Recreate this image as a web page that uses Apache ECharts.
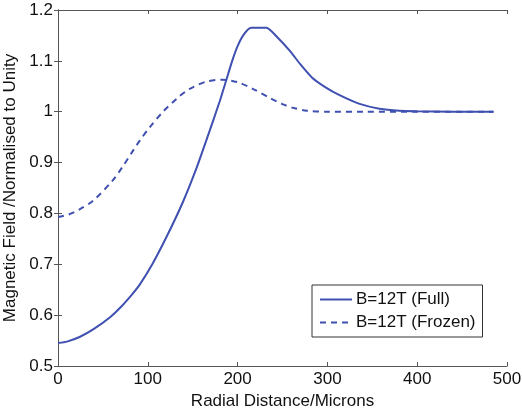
<!DOCTYPE html>
<html>
<head>
<meta charset="utf-8">
<script src="https://cdn.jsdelivr.net/npm/echarts@6/dist/echarts.min.js"></script>
<style>
  html, body { margin: 0; padding: 0; background: #fff; }
  #chart { width: 522px; height: 412px; }
</style>
</head>
<body>
<div id="chart"></div>
<script>
// radial distance (microns) and normalised field
var fullX = [0, 10, 24, 40, 58, 70, 83, 91, 105, 122, 139, 154, 167, 180, 187, 194, 200, 207, 215, 232, 245, 258, 270, 283, 298, 313, 335, 358, 380, 400, 440, 485]
var fullY = [0.545, 0.548, 0.557, 0.573, 0.596, 0.616, 0.642, 0.660, 0.700, 0.758, 0.822, 0.888, 0.953, 1.02, 1.06, 1.1, 1.129, 1.152, 1.165, 1.165, 1.145, 1.12, 1.093, 1.067, 1.048, 1.033, 1.016, 1.006, 1.002, 1.001, 1.0, 1.0]

var frozenX = [0, 12, 24, 39, 61, 72, 83, 91, 102, 117, 133, 143, 150, 165, 183, 200, 218, 236, 250, 261, 277, 300, 340, 400, 485]
var frozenY = [0.793, 0.798, 0.808, 0.825, 0.865, 0.892, 0.922, 0.943, 0.969, 1.0, 1.027, 1.041, 1.048, 1.059, 1.063, 1.058, 1.044, 1.027, 1.015, 1.008, 1.002, 1.0, 1.0, 1.0, 1.0]

var fullName = 'B=12T (Full)'
var frozenName = 'B=12T (Frozen)'

function pairs (xs, ys) {
  return xs.map(function (x, i) { return [x, ys[i]] })
}

var blue = '#3f50b0'
var axisColor = '#555'
var font = 'Liberation Sans'

var myChart = echarts.init(document.getElementById('chart'))
myChart.setOption({
  animation: false,
  grid: {
    left: 58,
    right: 15,
    top: 10,
    bottom: 46,
    containLabel: false,
    outerBoundsMode: 'none'
  },
  legend: {
    orient: 'vertical',
    left: 312,
    top: 285,
    padding: [6, 7, 6, 7],
    itemGap: 6,
    itemWidth: 32,
    itemHeight: 12,
    itemStyle: { opacity: 0 },
    borderColor: '#333',
    borderWidth: 1,
    backgroundColor: '#fff',
    textStyle: { fontFamily: font, fontSize: 17, color: '#111', padding: [0, 0, 0, -1] },
    data: [fullName, frozenName]
  },
  xAxis: [
    {
      type: 'value',
      min: 0,
      max: 500,
      interval: 100,
      name: 'Radial Distance/Microns',
      nameLocation: 'middle',
      nameGap: 23,
      nameTextStyle: { fontFamily: font, fontSize: 17, color: '#111' },
      axisLine: { lineStyle: { color: axisColor, width: 1 } },
      axisTick: { inside: true, length: 4, lineStyle: { color: axisColor } },
      axisLabel: { fontFamily: font, fontSize: 17, color: '#111', margin: 5 },
      splitLine: { show: false }
    },
    {
      type: 'value',
      position: 'top',
      min: 0,
      max: 500,
      interval: 100,
      axisLine: { show: true, lineStyle: { color: axisColor, width: 1 } },
      axisTick: { show: true, inside: true, length: 4, lineStyle: { color: axisColor } },
      axisLabel: { show: false },
      splitLine: { show: false }
    }
  ],
  yAxis: [
    {
      type: 'value',
      min: 0.5,
      max: 1.2,
      interval: 0.1,
      name: 'Magnetic Field /Normalised to Unity',
      nameLocation: 'middle',
      nameGap: 33,
      nameTextStyle: { fontFamily: font, fontSize: 17, color: '#111' },
      axisLine: { show: true, lineStyle: { color: axisColor, width: 1 } },
      axisTick: { show: true, inside: true, length: 4, lineStyle: { color: axisColor } },
      axisLabel: {
        fontFamily: font,
        fontSize: 17,
        color: '#111',
        margin: 5,
        formatter: function (v) { return String(Math.round(v * 10) / 10) }
      },
      splitLine: { show: false }
    },
    {
      type: 'value',
      position: 'right',
      min: 0.5,
      max: 1.2,
      interval: 0.1,
      axisLine: { show: true, lineStyle: { color: axisColor, width: 1 } },
      axisTick: { show: true, inside: true, length: 4, lineStyle: { color: axisColor } },
      axisLabel: { show: false },
      splitLine: { show: false }
    }
  ],
  series: [
    {
      name: fullName,
      type: 'line',
      data: pairs(fullX, fullY),
      smooth: 0.2,
      showSymbol: false,
      symbol: 'none',
      lineStyle: { color: blue, width: 2 },
      itemStyle: { color: blue }
    },
    {
      name: frozenName,
      type: 'line',
      data: pairs(frozenX, frozenY),
      smooth: 0.3,
      showSymbol: false,
      symbol: 'none',
      lineStyle: { color: blue, width: 2, type: [6, 5] },
      itemStyle: { color: blue }
    }
  ]
})
</script>
</body>
</html>
